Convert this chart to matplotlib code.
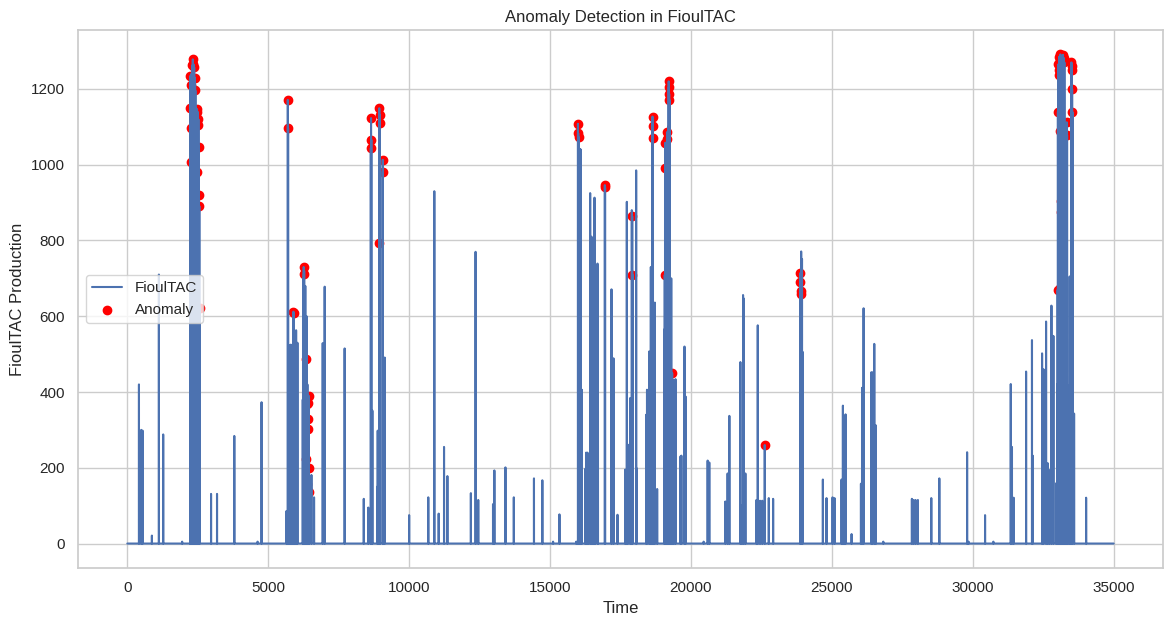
import matplotlib
matplotlib.use("Agg")
import matplotlib.pyplot as plt
import numpy as np
import seaborn as sns

# ---------------------------------------------------------------------------
# FioulTAC production.
# The series is zero everywhere except at the listed time steps.
# ---------------------------------------------------------------------------
n_steps = 35000

# ordinary (non-anomalous) production spikes: time step, value
spike_t = [
    413, 495, 542, 872, 1120, 1273, 1945,
    # cluster around 2200-2600
    2250, 2256, 2276, 2284, 2292, 2300, 2316, 2332, 2340, 2356, 2364, 2380,
    2396, 2404, 2420, 2428, 2440, 2460, 2510, 2547,
    2971, 3183, 3796, 4622, 4763,
    5648, 5753, 5765, 5780, 5801, 5815, 5830, 5850, 5870, 5942, 5960, 5989,
    6010, 6036,
    6225, 6235, 6245, 6255, 6275, 6285, 6295, 6305, 6315, 6330, 6345, 6360,
    6375, 6390, 6405, 6420, 6435, 6450,
    6532, 6626, 6933, 7003, 7711,
    8390, 8550, 8695, 8870, 8885, 9133,
    10000, 10679, 10893, 11048, 11238, 11357, 12190, 12357, 12452, 12976,
    13024, 13417, 13714, 14429, 14726, 15107, 15333, 15929,
    16020, 16050, 16092, 16128, 16246, 16280, 16328, 16360, 16423, 16440,
    16470, 16490, 16506, 16530, 16577, 16600, 16683, 16700,
    17180, 17251, 17393, 17665, 17724, 17760, 17842, 17870, 17901,
    18055, 18070, 18410, 18440, 18516, 18576, 18600, 18718, 18800,
    19050, 19110, 19130, 19170, 19190, 19240, 19270, 19300,
    19391, 19450, 19628, 19660, 19770, 19810,
    20450, 20592, 20650, 21220, 21300, 21362, 21753, 21790, 21848, 21870,
    21931, 22322, 22370, 22450, 22530, 22761, 22915,
    23910, 23940, 23960,
    24680, 24810, 25024, 25095, 25343, 25391, 25440, 25485, 25699,
    26031, 26070, 26125, 26398, 26440, 26504, 26560, 26824,
    27839, 27900, 27970, 28052, 28527, 28812, 29798, 29850, 30435, 30730,
    31347, 31390, 31450, 31891, 32100, 32125, 32458, 32510, 32600, 32660,
    32720, 32790, 32860, 32955, 32990,
    # cluster around 33000-33300
    33040, 33050, 33060, 33070, 33090, 33105, 33115, 33135, 33145, 33160,
    33170, 33185, 33195, 33210, 33220, 33235, 33245, 33260, 33275, 33290,
    33305,
    33380, 33438, 33460, 33594, 34021,
]
spike_v = [
    420, 300, 298, 21, 710, 288, 5,
    1000, 1190, 1240, 900, 1180, 1200, 1100, 1220, 1150, 1000, 1240, 1180,
    1100, 1210, 1150, 900, 700, 1000, 1120, 509,
    131, 131, 284, 5, 373,
    86, 524, 300, 520, 525, 280, 500, 350, 510, 540, 300, 563,
    400, 530,
    380, 600, 250, 700, 720, 400, 650, 500, 680, 300, 450, 600,
    350, 420, 300, 380, 200, 150,
    181, 122, 529, 678, 515,
    118, 95, 351, 150, 298, 491,
    75, 122, 930, 79, 255, 178, 133, 770, 115, 104,
    193, 201, 122, 172, 167, 5, 77, 5,
    600, 1042, 1040, 406, 197, 240, 240, 180, 925, 300,
    810, 350, 458, 200, 913, 300, 739, 350,
    671, 489, 76, 195, 902, 261, 384, 200, 880,
    985, 199, 340, 406, 507, 730, 300, 636, 144,
    565, 900, 1040, 700, 1100, 900, 400, 700,
    432, 434, 230, 232, 520, 388,
    5, 219, 214, 111, 185, 337, 479, 100, 656, 647,
    185, 115, 576, 113, 113, 120, 118,
    771, 751, 506,
    169, 120, 122, 120, 169, 364, 337, 341, 25,
    158, 411, 621, 452, 452, 527, 312, 5,
    118, 115, 115, 115, 120, 172, 241, 5, 75, 5,
    421, 255, 121, 454, 537, 232, 502, 460, 586, 212,
    194, 628, 548, 159, 420,
    1100, 800, 1200, 600, 1250, 900, 400, 1150, 700, 1230,
    500, 1000, 300, 1100, 850, 1200, 600, 1050, 700, 1000,
    400,
    417, 705, 601, 343, 121,
]

# points flagged as anomalies: time step, value
anom_t = [
    2230, 2238, 2246, 2262, 2268, 2308, 2324, 2348, 2372, 2388, 2412,
    2473, 2480, 2490, 2500, 2520, 2530, 2540, 2555, 2565,
    5695, 5705, 5895, 5905,
    6260, 6268, 6343, 6352, 6365, 6380, 6395, 6410, 6425, 6437, 6440, 6445,
    8640, 8648, 8656, 8940, 8945, 8950, 8960, 9062, 9070,
    15990, 16000, 16010, 16944, 16952, 17915, 17925,
    18635, 18643, 18651,
    19070, 19080, 19090, 19150, 19160, 19210, 19218, 19226, 19234, 19332,
    22618, 23880, 23886, 23893, 23900,
    33014, 33020, 33035, 33045, 33055, 33065, 33080, 33085, 33096, 33110,
    33120, 33128, 33150, 33175, 33200, 33225, 33250, 33335, 33345,
    33500, 33508, 33516, 33524, 33532,
]
anom_v = [
    1234, 1150, 1210, 1007, 1097, 1262, 1278, 1265, 1257, 1230, 1196,
    1147, 980, 1140, 1105, 1120, 1048, 919, 891, 622,
    1171, 1096, 612, 608,
    730, 712, 487, 222, 158, 368, 303, 330, 372, 390, 136, 199,
    1044, 1123, 1066, 1149, 794, 1132, 1110, 1013, 982,
    1108, 1083, 1073, 946, 940, 864, 709,
    1127, 1102, 1071,
    709, 990, 1058, 1086, 1069, 1220, 1205, 1187, 1171, 450,
    260, 714, 691, 666, 660,
    670, 1140, 1265, 1250, 1237, 1285, 1275, 674, 1090, 1291,
    903, 874, 1285, 1280, 1290, 1282, 1270, 1112, 1078,
    1270, 1260, 1250, 1200, 1139,
]

series = np.zeros(n_steps)
series[spike_t] = spike_v
series[anom_t] = anom_v
time = np.arange(n_steps)

sns.set_theme(style="whitegrid")
plt.rcParams["font.family"] = ["Liberation Sans", "DejaVu Sans"]

fig = plt.figure(figsize=(11.72, 6.27), dpi=100)
fig.subplots_adjust(left=78 / 1172, right=1163 / 1172,
                    top=1 - 30 / 627, bottom=1 - 568 / 627)

plt.plot(time, series, label="FioulTAC")
plt.scatter(anom_t, series[anom_t], color="red", label="Anomaly")

plt.title("Anomaly Detection in FioulTAC")
plt.xlabel("Time")
plt.ylabel("FioulTAC Production")
plt.legend(loc="center left")

plt.savefig("out.png", dpi=100)
